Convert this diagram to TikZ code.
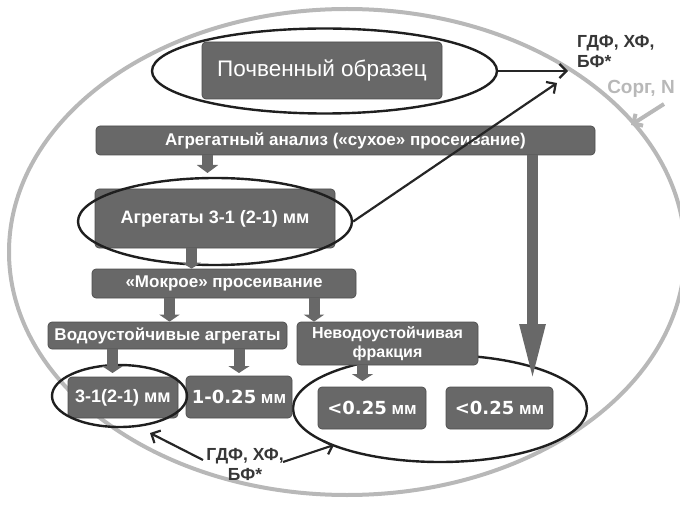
\documentclass[tikz,border=0pt]{standalone}
\usepackage{fontspec}
\setmainfont{Liberation Sans}
\newfontfamily\verd{DejaVu Sans}
\usetikzlibrary{shapes.geometric,arrows.meta}
\definecolor{boxg}{RGB}{104,104,104}
\definecolor{boxb}{RGB}{78,78,78}
\definecolor{ringg}{RGB}{184,184,184}
\definecolor{txtd}{RGB}{55,55,55}
\tikzset{
  box/.style={draw=boxb, line width=0.7pt, fill=boxg, rounded corners=4pt, text=white,
    inner sep=0pt, align=center, font=\bfseries\fontsize{17}{20}\selectfont},
  oval/.style={ellipse, draw=black!88, line width=2.4pt, inner sep=0pt, fill=none},
  arr/.style={draw=black!85, line width=2.2pt, -{Straight Barb[length=7pt,width=14pt]}},
  blk/.style={draw=boxg, line width=11pt, -{Triangle[length=8pt,width=21pt]}},
  lbl/.style={inner sep=0pt, align=center, font=\bfseries\fontsize{17.5}{20}\selectfont, text=txtd},
}
\begin{document}
\begin{tikzpicture}[x=1pt,y=-1pt]
\useasboundingbox (0,0) rectangle (680,505);
% outer ring
\node[ellipse, draw=ringg, line width=4pt, minimum width=676pt, minimum height=486pt, inner sep=0pt] (ring) at (347,252) {};

% oval drawn behind its boxes
\node[oval, minimum width=294pt, minimum height=107pt] (e4) at (440,408.5) {};

% boxes
\node[box, minimum width=240pt, minimum height=57pt, font=\fontsize{22.5}{24}\selectfont] (b1) at (322,70.5) {Почвенный образец};
\node[box, minimum width=499pt, minimum height=29pt] (b2) at (345.5,140.5) {Агрегатный анализ («сухое» просеивание)};
\node[box, minimum width=240pt, minimum height=59pt, font=\bfseries\fontsize{18}{20}\selectfont] (b3) at (215,218.5) {Агрегаты 3-1 (2-1) мм};
\node[box, minimum width=264pt, minimum height=29pt] (b4) at (224,283.5) {«Мокрое» просеивание};
\node[box, minimum width=239pt, minimum height=27pt] (b5) at (167.5,335.5) {Водоустойчивые агрегаты};
\node[box, minimum width=181pt, minimum height=43pt, font=\bfseries\fontsize{16}{19}\selectfont] (b6) at (387.5,343.5) {Неводоустойчивая\\фракция};
\node[box, minimum width=110pt, minimum height=41pt, font=\bfseries\fontsize{18}{20}\selectfont] (b7) at (123,397.5) {3-1(2-1) мм};
\node[box, minimum width=106pt, minimum height=42pt] (b8) at (239,397) {{\verd\fontsize{18}{20}\selectfont 1-0.25} мм};
\node[box, minimum width=108pt, minimum height=42pt] (b9) at (372,408) {{\verd\fontsize{18}{20}\selectfont <0.25} мм};
\node[box, minimum width=107pt, minimum height=42pt] (b10) at (499.5,408) {{\verd\fontsize{18}{20}\selectfont <0.25} мм};

% ovals over boxes
\node[oval, minimum width=345pt, minimum height=85pt] (e1) at (324.5,71) {};
\node[oval, minimum width=274pt, minimum height=87pt] (e2) at (215,221.5) {};
\node[oval, minimum width=135pt, minimum height=62pt] (e3) at (119.5,396) {};

% labels
\node[lbl, align=left, anchor=north west] (g1) at (577,35) {ГДФ, ХФ,\\БФ*};
\node[lbl] (g2) at (245,464) {ГДФ, ХФ,\\БФ*};
\node[inner sep=0pt, font=\bfseries\fontsize{19}{20}\selectfont, text=ringg] (corg) at (641,88.5) {Сорг, N};

% free ends
\coordinate (t1) at (568,71);
\coordinate (t2) at (557,83);
\coordinate (g2l) at (203,460);
\coordinate (g2r) at (283,462);
\coordinate (t3) at (150,433);
\coordinate (t4) at (334,445);
\coordinate (cs) at (664,104);
\coordinate (ct) at (631,125);
\coordinate (a1t) at (207.5,173);
\coordinate (a5t) at (112.5,373);
\coordinate (a6t) at (239,373);
\coordinate (a7t) at (362.5,381);
\coordinate (a8t) at (532.5,383);

% black arrows
\draw[arr] (e1.east) -- (t1);
\draw[arr] (e2.east) -- (t2);
\draw[arr] (g2l) -- (t3);
\draw[arr] (g2r) -- (t4);
\draw[draw=ringg, line width=4pt, -{Straight Barb[length=7pt,width=14pt]}] (cs) -- (ct);

% block arrows
\draw[blk] ([xshift=-138pt]b2.south) -- (a1t);
\draw[blk, -{Triangle[length=6pt,width=19pt]}] ([xshift=-23.5pt]b3.south) -- ([xshift=-32.5pt]b4.north);
\draw[blk, -{Triangle[length=7pt,width=20pt]}] ([xshift=-54.5pt]b4.south) -- ([xshift=2pt]b5.north);
\draw[blk, -{Triangle[length=7pt,width=20pt]}] ([xshift=90pt]b4.south) -- ([xshift=-73.5pt]b6.north);
\draw[blk, -{Triangle[length=7pt,width=21pt]}] ([xshift=-55pt]b5.south) -- (a5t);
\draw[blk, -{Triangle[length=7pt,width=21pt]}] ([xshift=71.5pt]b5.south) -- (a6t);
\draw[blk, -{Triangle[length=7pt,width=21pt]}] ([xshift=-25pt]b6.south) -- (a7t);
\draw[blk, -{Triangle[length=59pt,width=23pt]}] ([xshift=187pt]b2.south) -- (a8t);
\end{tikzpicture}
\end{document}
